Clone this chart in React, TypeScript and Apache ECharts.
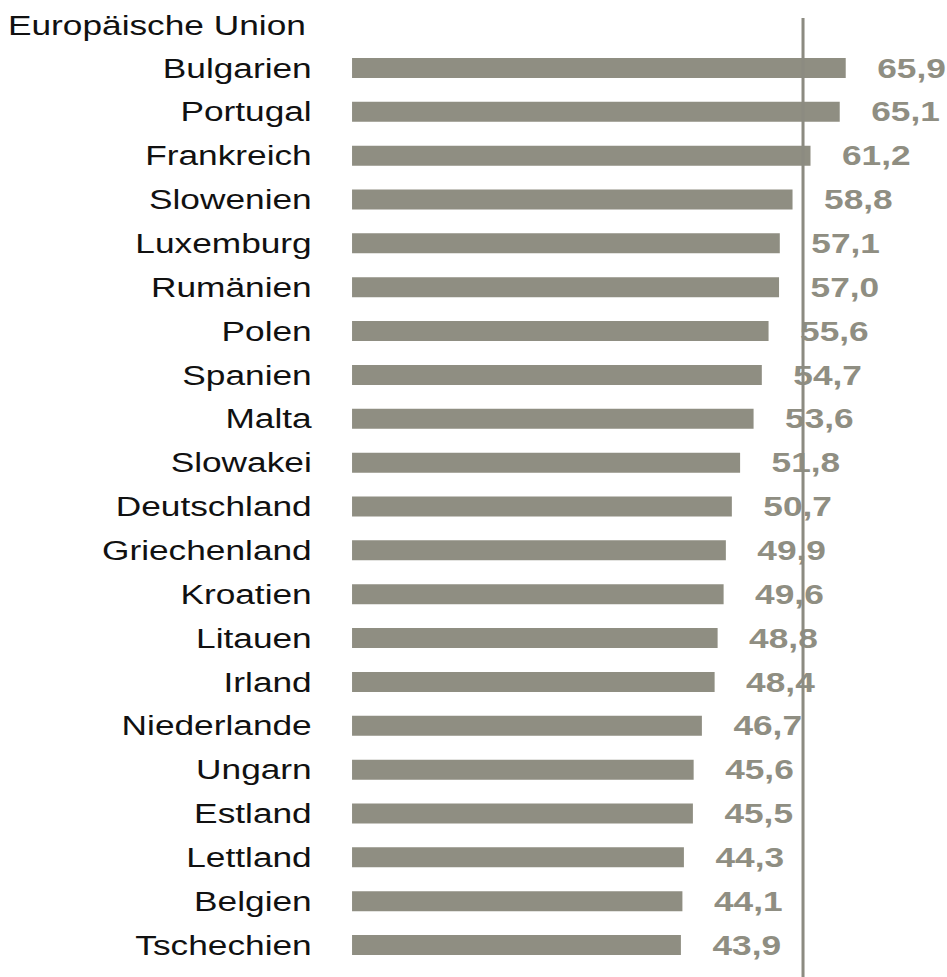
import React, { useEffect, useRef } from "react";
import * as echarts from "echarts";

const title = "Europäische Union";
const categories = [
  "Bulgarien", "Portugal", "Frankreich", "Slowenien", "Luxemburg", "Rumänien",
  "Polen", "Spanien", "Malta", "Slowakei", "Deutschland", "Griechenland",
  "Kroatien", "Litauen", "Irland", "Niederlande", "Ungarn", "Estland",
  "Lettland", "Belgien", "Tschechien",
];
const values = [
  65.9, 65.1, 61.2, 58.8, 57.1, 57.0, 55.6, 54.7, 53.6, 51.8, 50.7, 49.9,
  49.6, 48.8, 48.4, 46.7, 45.6, 45.5, 44.3, 44.1, 43.9,
];
const referenceValue = 60.2;

const SX = 1.26;
const W = 947 / SX;
const H = 977;
const FONT = "'Liberation Sans', Arial, sans-serif";
const GREY = "#8f8e82";

export default function App() {
  const ref = useRef<HTMLDivElement>(null);
  useEffect(() => {
    if (!ref.current) return;
    const chart = echarts.init(ref.current, null, { renderer: "svg" });
    chart.setOption({
      animation: false,
      grid: { left: 279.4, right: W - 279.4 - 75 * 5.94, top: 46, bottom: 10, containLabel: false },
      xAxis: { type: "value", min: 0, max: 75, show: false },
      yAxis: {
        type: "category",
        data: categories,
        inverse: true,
        axisLine: { show: false },
        axisTick: { show: false },
        splitLine: { show: false },
        axisLabel: { color: "#111", fontSize: 28, fontFamily: FONT, margin: 32 },
      },
      series: [
        {
          type: "bar",
          data: values,
          barWidth: 20,
          itemStyle: { color: GREY },
          label: {
            show: true,
            position: "right",
            distance: 25,
            color: GREY,
            fontSize: 28,
            fontWeight: "bold",
            fontFamily: FONT,
            formatter: (p: any) => Number(p.value).toFixed(1).replace(".", ","),
          },
        },
      ],
      graphic: [
        {
          id: "title",
          type: "text",
          left: 6.3,
          top: 11,
          style: { text: title, fill: "#111", font: `28px ${FONT}` },
        },
      ],
    });
    const px = chart.convertToPixel({ xAxisIndex: 0 }, referenceValue) as number;
    chart.setOption({
      graphic: [
        {
          id: "refline",
          type: "line",
          z: 10,
          shape: { x1: px, y1: 18, x2: px, y2: H },
          style: { stroke: "#8c8b81", lineWidth: 2.4 },
        },
      ],
    });
    return () => chart.dispose();
  }, []);
  return (
    <div
      ref={ref}
      style={{
        position: "absolute",
        left: 0,
        top: 0,
        width: `${W}px`,
        height: `${H}px`,
        transform: `scaleX(${SX})`,
        transformOrigin: "0 0",
      }}
    />
  );
}
